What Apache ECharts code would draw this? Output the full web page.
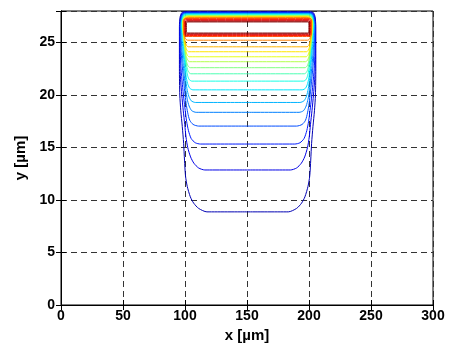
<!DOCTYPE html>
<html><head><meta charset="utf-8">
<script src="https://cdn.jsdelivr.net/npm/echarts/dist/echarts.min.js"></script>
<style>html,body{margin:0;padding:0;background:#fff}#c{width:451px;height:349px}</style>
</head><body><div id="c"></div>
<script>
// axis ranges / ticks
const xRange = [0, 300];
const yRange = [0, 28];
const xStep = 50;
const yStep = 5;
const centerX = 150.5; // symmetry axis of the contours

// Left halves of the contour lines (x, y in µm), from bottom centre round to top centre.
// Lowest level first.
const contour0 = [[150.5,8.87],[117.7,8.87],[111,9.2],[107,9.7],[104.3,10.3],[101.8,11.3],[100.4,12.3],[99.6,13.8],[98.9,15.4],[97.8,17],[96.6,18.5],[95.8,20],[95.5,22.5],[95.5,26.5],[96.1,27.45],[97.5,27.85],[100,27.93],[150.5,27.93]];
const contour1 = [[150.5,12.86],[116,12.86],[111,13.05],[107.2,13.5],[104.5,14.1],[102.2,15],[100.8,16],[99.8,17.2],[98.6,18.5],[97.4,20],[96.4,21.5],[95.9,23],[95.8,26.5],[96.4,27.4],[97.8,27.8],[100.2,27.89],[150.5,27.89]];
const contour2 = [[150.5,15.33],[112.5,15.33],[108.3,15.45],[105,15.85],[102.8,16.6],[101.3,17.5],[100.2,18.5],[99,19.7],[97.9,21],[96.8,22.5],[96.2,24],[96.1,26.5],[96.7,27.35],[98,27.75],[100.4,27.85],[150.5,27.85]];
const contour3 = [[150.5,17.04],[111,17.04],[106.5,17.2],[103.8,17.6],[102.2,18.3],[100.9,19.2],[99.8,20.3],[98.7,21.6],[97.6,23],[96.8,24.5],[96.4,26.5],[97,27.3],[98.2,27.71],[100.6,27.81],[150.5,27.81]];
const contour4 = [[150.5,18.35],[109,18.35],[105.5,18.5],[103.3,18.95],[101.8,19.6],[100.6,20.5],[99.6,21.6],[98.6,22.8],[97.6,24.2],[96.9,25.5],[96.7,26.5],[97.3,27.25],[98.4,27.67],[100.8,27.77],[150.5,27.77]];
const contour5 = [[150.5,19.29],[108.3,19.29],[105,19.45],[103,19.9],[101.6,20.6],[100.4,21.6],[99.5,22.8],[98.6,24],[97.7,25.2],[97.1,26.2],[97.0,26.6],[97.5,27.2],[98.6,27.63],[101,27.73],[150.5,27.73]];
const contour6 = [[150.5,20.49],[106.5,20.49],[103.8,20.65],[102.1,21.1],[100.9,21.8],[100,22.8],[99.2,24],[98.4,25.2],[97.6,26.2],[97.2,26.7],[97.7,27.18],[98.8,27.59],[101.2,27.69],[150.5,27.69]];
const contour7 = [[150.5,21.32],[105.5,21.32],[103.2,21.5],[101.8,22],[100.7,22.8],[99.9,23.9],[99.2,25],[98.4,26],[97.7,26.7],[98,27.15],[99,27.55],[101.4,27.65],[150.5,27.65]];
const contour8 = [[150.5,22.02],[104.8,22.02],[102.8,22.2],[101.5,22.7],[100.6,23.5],[99.9,24.5],[99.2,25.5],[98.5,26.3],[97.9,26.8],[98.2,27.12],[99.2,27.51],[101.6,27.61],[150.5,27.61]];
const contour9 = [[150.5,22.6],[104.2,22.6],[102.4,22.78],[101.2,23.2],[100.2,23.9],[99.3,24.8],[98.5,25.7],[98.0,26.5],[98.0,26.9],[98.4,27.2],[99.4,27.47],[101.8,27.57],[150.5,27.57]];
const contour10 = [[150.5,23.17],[103.8,23.17],[102.1,23.33],[100.9,23.75],[100,24.4],[99.2,25.2],[98.5,26],[98.2,26.6],[98.2,26.95],[98.6,27.18],[99.6,27.43],[102,27.53],[150.5,27.53]];
const contour11 = [[150.5,23.64],[103.4,23.64],[101.8,23.8],[100.7,24.2],[99.8,24.85],[99.1,25.5],[98.6,26.2],[98.4,26.7],[98.4,27],[98.8,27.17],[99.8,27.39],[102.2,27.49],[150.5,27.49]];
const contour12 = [[150.5,24.12],[103,24.12],[101.5,24.27],[100.5,24.65],[99.7,25.2],[99.1,25.8],[98.7,26.4],[98.6,26.8],[98.6,27.02],[99,27.17],[100,27.35],[102.4,27.45],[150.5,27.45]];
const contour13 = [[150.5,24.59],[102.6,24.59],[101.2,24.72],[100.2,25.05],[99.5,25.5],[99.0,26.1],[98.8,26.6],[98.8,27.05],[99.2,27.2],[100.2,27.32],[102.6,27.41],[150.5,27.41]];
const contour14 = [[150.5,25.22],[102.2,25.22],[100.8,25.3],[99.9,25.5],[99.3,25.85],[99.0,26.3],[98.95,26.8],[98.95,27.08],[99.3,27.22],[100.4,27.3],[102.8,27.37],[150.5,27.37]];
const contour15 = [[150.5,25.58],[100.45,25.58],[99.55,25.64],[99.25,25.78],[99.25,27.08],[99.55,27.22],[100.45,27.28],[150.5,27.28]];
const contour16 = [[150.5,25.66],[100.9,25.66],[100.0,25.72],[99.7,25.86],[99.7,27.0],[100.0,27.14],[100.9,27.2],[150.5,27.2]];
const contour17 = [[150.5,25.74],[101.35,25.74],[100.45,25.8],[100.15,25.94],[100.15,26.92],[100.45,27.06],[101.35,27.12],[150.5,27.12]];
const contour18 = [[150.5,25.82],[101.8,25.82],[100.9,25.88],[100.6,26.02],[100.6,26.84],[100.9,26.98],[101.8,27.04],[150.5,27.04]];
const contour19 = [[150.5,25.9],[102.25,25.9],[101.35,25.96],[101.05,26.1],[101.05,26.76],[101.35,26.9],[102.25,26.96],[150.5,26.96]];

const contourHalves = [contour0,contour1,contour2,contour3,contour4,contour5,contour6,contour7,contour8,contour9,
  contour10,contour11,contour12,contour13,contour14,contour15,contour16,contour17,contour18,contour19];

// jet colormap
function jet(t){
  const c = v => Math.max(0, Math.min(1, v));
  const r = c(1.5 - Math.abs(4*t - 3)), g = c(1.5 - Math.abs(4*t - 2)), b = c(1.5 - Math.abs(4*t - 1));
  return 'rgb(' + Math.round(r*255) + ',' + Math.round(g*255) + ',' + Math.round(b*255) + ')';
}
function closeLoop(half){
  const right = half.slice().reverse().slice(1).map(p => [2*centerX - p[0], p[1]]);
  return half.concat(right);
}

const n = contourHalves.length;
const series = contourHalves.map((half, i) => ({
  type: 'line',
  data: closeLoop(half),
  showSymbol: false,
  smooth: 0.25,
  silent: true,
  lineStyle: { color: jet((i + 1) / n), width: 1 },
  z: 3
}));

const labelFont = { color: '#000', fontFamily: 'Liberation Sans, Arial, sans-serif', fontWeight: 'bold', fontSize: 14 };
const gridLine = { show: true, lineStyle: { color: '#333', width: 1, type: [6, 4] } };
const tickIn = { show: true, inside: true, length: 5, lineStyle: { color: '#000' } };

const chart = echarts.init(document.getElementById('c'), null, { renderer: 'canvas' });
chart.setOption({
  animation: false,
  backgroundColor: '#fff',
  grid: { left: 61, right: 18, top: 11, bottom: 44, show: true, borderColor: '#000', borderWidth: 1, backgroundColor: 'transparent' },
  xAxis: [
    { type: 'value', min: xRange[0], max: xRange[1], interval: xStep, position: 'bottom',
      axisLine: { show: true, lineStyle: { color: '#000' } }, axisTick: tickIn,
      axisLabel: Object.assign({ margin: 4 }, labelFont), splitLine: gridLine,
      name: 'x [µm]', nameLocation: 'middle', nameGap: 17,
      nameTextStyle: Object.assign({}, labelFont, { fontSize: 15 }) },
    { type: 'value', min: xRange[0], max: xRange[1], interval: xStep, position: 'top',
      axisLine: { show: true, lineStyle: { color: '#000' } }, axisTick: tickIn,
      axisLabel: { show: false }, splitLine: { show: false } }
  ],
  yAxis: [
    { type: 'value', min: yRange[0], max: yRange[1], interval: yStep, position: 'left',
      axisLine: { show: true, lineStyle: { color: '#000' } }, axisTick: tickIn,
      axisLabel: Object.assign({ margin: 6, formatter: v => (v % yStep === 0 ? String(v) : '') }, labelFont),
      splitLine: gridLine,
      name: 'y [µm]', nameLocation: 'middle', nameGap: 30, nameRotate: 90,
      nameTextStyle: Object.assign({}, labelFont, { fontSize: 15 }) },
    { type: 'value', min: yRange[0], max: yRange[1], interval: yStep, position: 'right',
      axisLine: { show: true, lineStyle: { color: '#000' } }, axisTick: tickIn,
      axisLabel: { show: false }, splitLine: { show: false } }
  ],
  series: series
});
</script></body></html>
